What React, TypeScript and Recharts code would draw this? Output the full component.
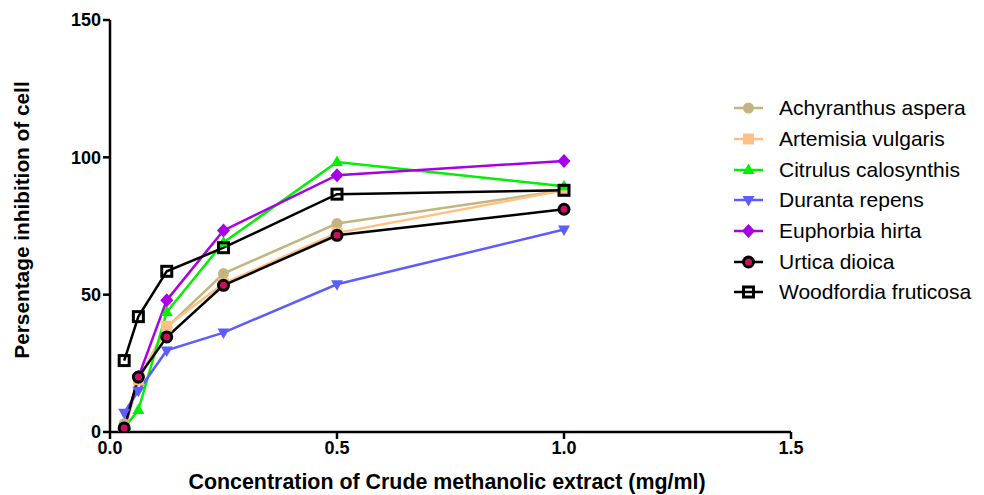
import React from 'react'
import { LineChart, Line, XAxis, YAxis, Legend, Label } from 'recharts'

// concentration (mg/ml) and % inhibition per plant extract
const concentrations = [0.03125, 0.0625, 0.125, 0.25, 0.5, 1.0]
const achyranthus = [3, 19, 38, 57.7, 75.9, 88]
const artemisia = [0, 19, 38.5, 54, 72.5, 88]
const citrulus = [1.5, 8, 43.7, 69, 98.3, 89.5]
const duranta = [7, 15, 29.7, 36.2, 53.8, 73.7]
const euphorbia = [1, 20, 48, 73.4, 93.5, 98.7]
const urtica = [1.5, 20, 34.6, 53.4, 71.6, 81.1]
const woodfordia = [26, 42, 58.5, 67.1, 86.6, 88]

const xTicks = [0, 0.5, 1, 1.5]
const yTicks = [0, 50, 100, 150]

type MarkerKind = 'circle' | 'square' | 'triangleUp' | 'triangleDown' | 'diamond' | 'ringDot' | 'openSquare'

interface Series {
  key: string
  name: string
  values: number[]
  color: string
  marker: MarkerKind
}

const SERIES: Series[] = [
  { key: 'achyranthus', name: 'Achyranthus aspera', values: achyranthus, color: '#C4B57F', marker: 'circle' },
  { key: 'artemisia', name: 'Artemisia vulgaris', values: artemisia, color: '#FFC183', marker: 'square' },
  { key: 'citrulus', name: 'Citrulus calosynthis', values: citrulus, color: '#00F000', marker: 'triangleUp' },
  { key: 'duranta', name: 'Duranta repens', values: duranta, color: '#5C5CFF', marker: 'triangleDown' },
  { key: 'euphorbia', name: 'Euphorbia hirta', values: euphorbia, color: '#A600E6', marker: 'diamond' },
  { key: 'urtica', name: 'Urtica dioica', values: urtica, color: '#000000', marker: 'ringDot' },
  { key: 'woodfordia', name: 'Woodfordia fruticosa', values: woodfordia, color: '#000000', marker: 'openSquare' },
]

const data = concentrations.map((x, i) => {
  const row: Record<string, number> = { x }
  SERIES.forEach((s) => {
    row[s.key] = s.values[i]
  })
  return row
})

const FONT = 'Arial, "Liberation Sans", sans-serif'

function Marker({ kind, cx, cy, color }: { kind: MarkerKind; cx: number; cy: number; color: string }) {
  switch (kind) {
    case 'circle':
      return <circle cx={cx} cy={cy} r={5.5} fill={color} />
    case 'square':
      return <rect x={cx - 5.5} y={cy - 5.5} width={11} height={11} fill={color} />
    case 'triangleUp':
      return <polygon points={`${cx},${cy - 6.5} ${cx + 6},${cy + 4} ${cx - 6},${cy + 4}`} fill={color} />
    case 'triangleDown':
      return <polygon points={`${cx},${cy + 6.5} ${cx + 6},${cy - 4} ${cx - 6},${cy - 4}`} fill={color} />
    case 'diamond':
      return <polygon points={`${cx},${cy - 7} ${cx + 6.5},${cy} ${cx},${cy + 7} ${cx - 6.5},${cy}`} fill={color} />
    case 'ringDot':
      return <circle cx={cx} cy={cy} r={5} fill="#CC1060" stroke="#000" strokeWidth={3} />
    case 'openSquare':
      return <rect x={cx - 5} y={cy - 5} width={10} height={10} fill="none" stroke="#000" strokeWidth={3} />
  }
}

function LegendContent() {
  return (
    <div style={{ fontFamily: FONT, fontSize: 21, color: '#000', whiteSpace: 'nowrap' }}>
      {SERIES.map((s) => (
        <div key={s.key} style={{ display: 'flex', alignItems: 'center', height: 30.7 }}>
          <svg width={40} height={20} style={{ marginRight: 9 }}>
            <line x1={4} y1={10} x2={33} y2={10} stroke={s.color} strokeWidth={2.5} />
            <Marker kind={s.marker} cx={18.5} cy={10} color={s.color} />
          </svg>
          <span>{s.name}</span>
        </div>
      ))}
    </div>
  )
}

const tickStyle = { fontSize: 18, fontWeight: 700, fill: '#000', fontFamily: FONT }

export default function App() {
  return (
    <div style={{ position: 'absolute', left: 0, top: 0 }}>
      <LineChart width={984} height={495} data={data} margin={{ top: 20, right: 193, bottom: 0, left: 40 }}>
        <XAxis
          type="number"
          dataKey="x"
          domain={[0, 1.5]}
          ticks={xTicks}
          tickFormatter={(v: number) => v.toFixed(1)}
          height={63}
          tick={tickStyle}
          tickSize={7}
          axisLine={{ stroke: '#000', strokeWidth: 2.5 }}
          tickLine={{ stroke: '#000', strokeWidth: 2.5 }}
          allowDataOverflow
        >
          <Label
            content={() => (
              <text x={447} y={489} textAnchor="middle" fontSize={21.4} fontWeight={700} fontFamily={FONT} fill="#000">
                Concentration of Crude methanolic extract (mg/ml)
              </text>
            )}
          />
        </XAxis>
        <YAxis
          type="number"
          domain={[0, 150]}
          ticks={yTicks}
          width={70}
          tick={tickStyle}
          tickSize={7}
          axisLine={{ stroke: '#000', strokeWidth: 2.5 }}
          tickLine={{ stroke: '#000', strokeWidth: 2.5 }}
          allowDataOverflow
        >
          <Label
            content={() => (
              <text
                x={29}
                y={220}
                transform="rotate(-90 29 220)"
                textAnchor="middle"
                fontSize={20.8}
                fontWeight={700}
                fontFamily={FONT}
                fill="#000"
              >
                Persentage inhibition of cell
              </text>
            )}
          />
        </YAxis>
        <Legend
          layout="vertical"
          align="center"
          verticalAlign="middle"
          content={() => <LegendContent />}
          wrapperStyle={{ position: 'absolute', left: 730, top: 93, width: 254, height: 220 }}
        />
        {SERIES.map((s) => (
          <Line
            key={s.key}
            type="linear"
            dataKey={s.key}
            name={s.name}
            stroke={s.color}
            strokeWidth={2.5}
            isAnimationActive={false}
            dot={(p: any) => (
              <Marker key={`${s.key}-${p.index}`} kind={s.marker} cx={p.cx} cy={p.cy} color={s.color} />
            )}
            activeDot={false}
          />
        ))}
      </LineChart>
    </div>
  )
}
